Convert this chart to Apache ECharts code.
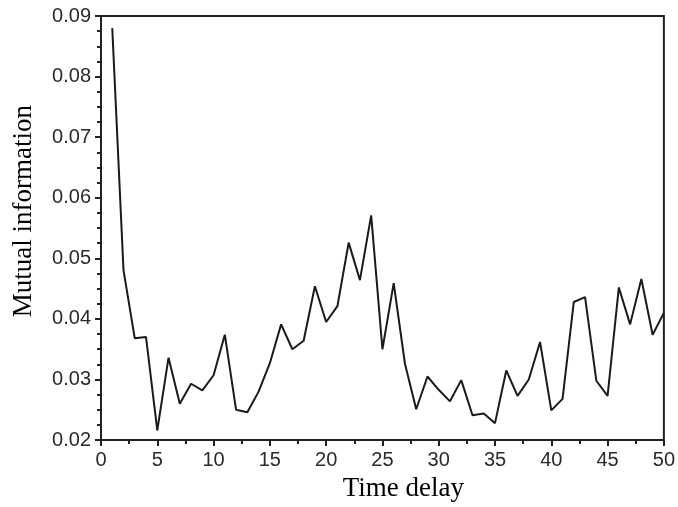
<!DOCTYPE html>
<html>
<head>
<meta charset="utf-8">
<title>Mutual information vs time delay</title>
<script src="https://cdn.jsdelivr.net/npm/echarts@6/dist/echarts.min.js"></script>
<style>
  html, body { margin: 0; padding: 0; background: #fff; }
  #chart { width: 678px; height: 507px; }
</style>
</head>
<body>
<div id="chart"></div>
<script>
// Time delay (lag) values
const delays = [
  1, 2, 3, 4, 5, 6, 7, 8, 9, 10,
  11, 12, 13, 14, 15, 16, 17, 18, 19, 20,
  21, 22, 23, 24, 25, 26, 27, 28, 29, 30,
  31, 32, 33, 34, 35, 36, 37, 38, 39, 40,
  41, 42, 43, 44, 45, 46, 47, 48, 49, 50
];

// Average mutual information at each delay
const mutualInfo = [
  0.0880, 0.0480, 0.0368, 0.0370, 0.0216, 0.0336, 0.0260, 0.0293, 0.0282, 0.0307,
  0.0374, 0.0250, 0.0246, 0.0280, 0.0327, 0.0391, 0.0350, 0.0364, 0.0454, 0.0395,
  0.0421, 0.0526, 0.0464, 0.0571, 0.0350, 0.0459, 0.0326, 0.0251, 0.0305, 0.0283,
  0.0264, 0.0299, 0.0241, 0.0244, 0.0228, 0.0315, 0.0273, 0.0300, 0.0362, 0.0249,
  0.0268, 0.0428, 0.0436, 0.0298, 0.0273, 0.0452, 0.0391, 0.0466, 0.0374, 0.0410
];

const points = delays.map((d, i) => [d, mutualInfo[i]]);

const axisColor = '#222';
const labelFont = {
  fontFamily: '"Liberation Sans", Arial, sans-serif',
  fontSize: 20,
  color: '#2a2a2a'
};
const titleFont = {
  fontFamily: '"Liberation Serif", "Times New Roman", serif',
  fontSize: 27,
  color: '#000'
};

const chart = echarts.init(document.getElementById('chart'), null, { renderer: 'canvas' });

chart.setOption({
  animation: false,
  backgroundColor: '#fff',
  grid: {
    left: 101,
    right: 11,
    top: 16,
    bottom: 64,
    show: true,
    borderColor: axisColor,
    borderWidth: 2,
    containLabel: false
  },
  xAxis: {
    type: 'value',
    min: 0,
    max: 50,
    interval: 5,
    name: 'Time delay',
    nameLocation: 'middle',
    nameGap: 33,
    nameTextStyle: Object.assign({ padding: [0, 0, 0, 42] }, titleFont),
    axisLine: { show: true, onZero: false, lineStyle: { color: axisColor, width: 2 } },
    axisTick: { show: true, inside: false, length: 6, lineStyle: { color: axisColor, width: 2 } },
    minorTick: { show: true, splitNumber: 2, length: 4, lineStyle: { color: axisColor, width: 2 } },
    axisLabel: Object.assign({ margin: 10 }, labelFont),
    splitLine: { show: false }
  },
  yAxis: {
    type: 'value',
    min: 0.02,
    max: 0.09,
    interval: 0.01,
    name: 'Mutual information',
    nameLocation: 'middle',
    nameGap: 64,
    nameTextStyle: Object.assign({ padding: [0, 0, 0, 34] }, titleFont),
    axisLine: { show: true, onZero: false, lineStyle: { color: axisColor, width: 2 } },
    axisTick: { show: true, inside: false, length: 6, lineStyle: { color: axisColor, width: 2 } },
    minorTick: { show: true, splitNumber: 4, length: 4, lineStyle: { color: axisColor, width: 2 } },
    axisLabel: Object.assign({
      margin: 10,
      formatter: v => v.toFixed(2)
    }, labelFont),
    splitLine: { show: false }
  },
  series: [{
    type: 'line',
    data: points,
    showSymbol: false,
    smooth: false,
    lineStyle: { color: '#1a1a1a', width: 2 }
  }]
});
</script>
</body>
</html>
